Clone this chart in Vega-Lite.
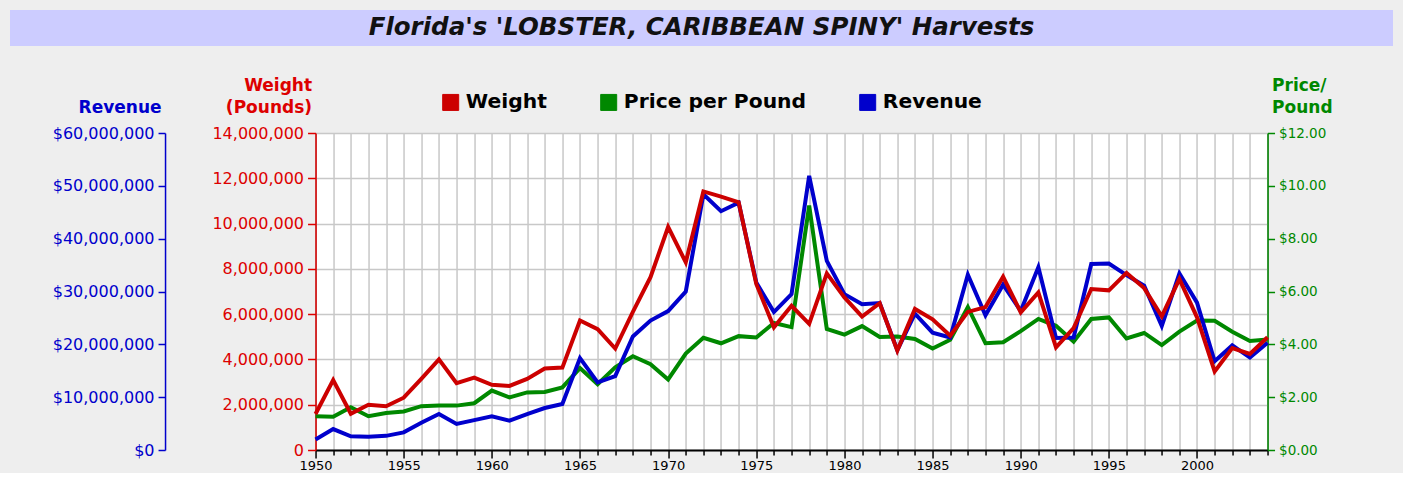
{
  "$schema": "https://vega.github.io/schema/vega-lite/v6.json",
  "background": "#EEEEEE",
  "padding": {"left": 10, "top": 10, "right": 0, "bottom": 0},
  "config": {"font": "DejaVu Sans"},
  "spacing": 29,
  "center": true,
  "resolve": {"scale": {"color": "independent"}, "legend": {"color": "independent"}},
  "vconcat": [
    {
      "width": 1383,
      "height": 36,
      "view": {"fill": "#CCCCFF", "stroke": null},
      "title": {"text": " ", "orient": "right", "angle": 0, "align": "left", "baseline": "middle", "color": "transparent", "fontSize": 10, "offset": 272},
      "data": {"values": [{"title": "Florida's 'LOBSTER, CARIBBEAN SPINY' Harvests"}]},
      "mark": {"type": "text", "font": "DejaVu Sans", "fontSize": 24.5, "fontWeight": "bold", "fontStyle": "italic", "color": "#111111", "baseline": "middle", "align": "center"},
      "encoding": {"text": {"field": "title"}}
    },
    {
      "width": 952,
      "height": 317,
      "view": {"fill": "white", "stroke": "black", "strokeWidth": 1},
      "title": {"text": "M", "orient": "right", "angle": 0, "align": "left", "baseline": "middle", "color": "transparent", "fontSize": 10, "offset": 7},
      "data": {"values": [
        {"year": 1950, "weight": 1590000, "price": 1.28, "revenue": 2000000},
        {"year": 1951, "weight": 3090000, "price": 1.26, "revenue": 3970000},
        {"year": 1952, "weight": 1600000, "price": 1.62, "revenue": 2600000},
        {"year": 1953, "weight": 2000000, "price": 1.28, "revenue": 2520000},
        {"year": 1954, "weight": 1930000, "price": 1.40, "revenue": 2680000},
        {"year": 1955, "weight": 2310000, "price": 1.46, "revenue": 3340000},
        {"year": 1956, "weight": 3140000, "price": 1.66, "revenue": 5150000},
        {"year": 1957, "weight": 4000000, "price": 1.68, "revenue": 6810000},
        {"year": 1958, "weight": 2950000, "price": 1.68, "revenue": 4920000},
        {"year": 1959, "weight": 3200000, "price": 1.77, "revenue": 5650000},
        {"year": 1960, "weight": 2880000, "price": 2.25, "revenue": 6400000},
        {"year": 1961, "weight": 2830000, "price": 1.99, "revenue": 5550000},
        {"year": 1962, "weight": 3140000, "price": 2.18, "revenue": 6810000},
        {"year": 1963, "weight": 3600000, "price": 2.20, "revenue": 7950000},
        {"year": 1964, "weight": 3640000, "price": 2.37, "revenue": 8710000},
        {"year": 1965, "weight": 5720000, "price": 3.10, "revenue": 17400000},
        {"year": 1966, "weight": 5340000, "price": 2.49, "revenue": 12800000},
        {"year": 1967, "weight": 4480000, "price": 3.13, "revenue": 14000000},
        {"year": 1968, "weight": 6100000, "price": 3.55, "revenue": 21500000},
        {"year": 1969, "weight": 7630000, "price": 3.25, "revenue": 24500000},
        {"year": 1970, "weight": 9850000, "price": 2.67, "revenue": 26300000},
        {"year": 1971, "weight": 8290000, "price": 3.65, "revenue": 30000000},
        {"year": 1972, "weight": 11420000, "price": 4.25, "revenue": 48400000},
        {"year": 1973, "weight": 11190000, "price": 4.04, "revenue": 45200000},
        {"year": 1974, "weight": 10940000, "price": 4.31, "revenue": 46800000},
        {"year": 1975, "weight": 7330000, "price": 4.26, "revenue": 31700000},
        {"year": 1976, "weight": 5420000, "price": 4.81, "revenue": 26100000},
        {"year": 1977, "weight": 6370000, "price": 4.65, "revenue": 29500000},
        {"year": 1978, "weight": 5570000, "price": 9.25, "revenue": 51900000},
        {"year": 1979, "weight": 7800000, "price": 4.58, "revenue": 35800000},
        {"year": 1980, "weight": 6740000, "price": 4.37, "revenue": 29500000},
        {"year": 1981, "weight": 5890000, "price": 4.69, "revenue": 27600000},
        {"year": 1982, "weight": 6480000, "price": 4.28, "revenue": 27800000},
        {"year": 1983, "weight": 4390000, "price": 4.30, "revenue": 18900000},
        {"year": 1984, "weight": 6230000, "price": 4.20, "revenue": 25800000},
        {"year": 1985, "weight": 5770000, "price": 3.84, "revenue": 22200000},
        {"year": 1986, "weight": 5050000, "price": 4.17, "revenue": 21300000},
        {"year": 1987, "weight": 6100000, "price": 5.41, "revenue": 33200000},
        {"year": 1988, "weight": 6310000, "price": 4.04, "revenue": 25500000},
        {"year": 1989, "weight": 7650000, "price": 4.08, "revenue": 31300000},
        {"year": 1990, "weight": 6080000, "price": 4.50, "revenue": 26300000},
        {"year": 1991, "weight": 6960000, "price": 4.96, "revenue": 34600000},
        {"year": 1992, "weight": 4530000, "price": 4.70, "revenue": 21200000},
        {"year": 1993, "weight": 5380000, "price": 4.10, "revenue": 21300000},
        {"year": 1994, "weight": 7110000, "price": 4.96, "revenue": 35200000},
        {"year": 1995, "weight": 7050000, "price": 5.02, "revenue": 35300000},
        {"year": 1996, "weight": 7820000, "price": 4.22, "revenue": 33100000},
        {"year": 1997, "weight": 7150000, "price": 4.43, "revenue": 31100000},
        {"year": 1998, "weight": 5900000, "price": 3.97, "revenue": 23500000},
        {"year": 1999, "weight": 7550000, "price": 4.48, "revenue": 33400000},
        {"year": 2000, "weight": 5860000, "price": 4.90, "revenue": 27900000},
        {"year": 2001, "weight": 3470000, "price": 4.89, "revenue": 16800000},
        {"year": 2002, "weight": 4500000, "price": 4.48, "revenue": 19800000},
        {"year": 2003, "weight": 4240000, "price": 4.13, "revenue": 17500000},
        {"year": 2004, "weight": 4980000, "price": 4.18, "revenue": 20300000}
      ]},
      "encoding": {
        "x": {
          "field": "year", "type": "quantitative",
          "scale": {"domain": [1950, 2004], "nice": false, "zero": false},
          "axis": {
            "title": null,
            "values": [1950,1951,1952,1953,1954,1955,1956,1957,1958,1959,1960,1961,1962,1963,1964,1965,1966,1967,1968,1969,1970,1971,1972,1973,1974,1975,1976,1977,1978,1979,1980,1981,1982,1983,1984,1985,1986,1987,1988,1989,1990,1991,1992,1993,1994,1995,1996,1997,1998,1999,2000,2001,2002,2003,2004],
            "labelExpr": "datum.value % 5 === 0 ? '' + datum.value : ''",
            "labelOverlap": false,
            "labelFlush": false,
            "grid": true, "gridColor": "#C8C8C8", "gridWidth": 1.5,
            "domainColor": "#000000", "domainWidth": 2,
            "tickColor": "#000000", "tickWidth": 1.5,
            "tickSize": {"condition": {"test": "datum.value % 5 === 0", "value": 8}, "value": 5},
            "labelColor": "#000000", "labelFontSize": 13, "labelPadding": 1, "labelFont": "DejaVu Sans"
          }
        }
      },
      "layer": [
        {
          "mark": {"type": "line", "strokeWidth": 4},
          "encoding": {
            "y": {
              "field": "price", "type": "quantitative",
              "scale": {"domain": [0, 12], "nice": false, "zero": true},
              "axis": {
                "orient": "right",
                "values": [0, 2, 4, 6, 8, 10, 12],
                "format": "$.2f",
                "grid": false,
                "domainColor": "#008800", "domainWidth": 1.5,
                "tickColor": "#008800", "tickSize": 7, "tickWidth": 1.5,
                "labelColor": "#008800", "labelFontSize": 13.5, "labelPadding": 4,
                "title": ["Price/", "Pound"],
                "titleColor": "#008800", "titleFontSize": 17, "titleFontWeight": "bold",
                "titleAngle": 0, "titleAlign": "left", "titleBaseline": "alphabetic",
                "titleX": 4, "titleY": -43, "titleLineHeight": 22
              }
            },
            "color": {
              "datum": "Price per Pound", "type": "nominal",
              "scale": {"domain": ["Weight", "Price per Pound", "Revenue"], "range": ["#CC0000", "#008800", "#0000CC"]},
              "legend": {
                "title": null, "orient": "none", "legendX": 125, "legendY": -41,
                "direction": "horizontal", "columns": 3,
                "symbolType": "square", "symbolSize": 256, "symbolStrokeWidth": 1,
                "labelFontSize": 20.3, "labelFontWeight": "bold", "labelFont": "DejaVu Sans", "labelColor": "#000000",
                "labelOffset": 5, "labelLimit": 1000, "columnPadding": 51, "padding": 0,
                "encode": {"symbols": {"update": {
                  "fill": {"signal": "datum.value === 'Weight' ? '#CC0000' : datum.value === 'Revenue' ? '#0000CC' : '#008800'"},
                  "stroke": {"value": "#000000"},
                  "strokeWidth": {"value": 1},
                  "opacity": {"value": 1}
                }}}
              }
            }
          }
        },
        {
          "mark": {"type": "line", "strokeWidth": 4},
          "encoding": {
            "y": {
              "field": "revenue", "type": "quantitative",
              "scale": {"domain": [0, 60000000], "nice": false, "zero": true},
              "axis": {
                "orient": "left", "offset": 150.5,
                "values": [0, 10000000, 20000000, 30000000, 40000000, 50000000, 60000000],
                "format": "$,.0f",
                "grid": false,
                "domainColor": "#0000CC", "domainWidth": 1.5,
                "tickColor": "#0000CC", "tickSize": 7, "tickWidth": 1.5,
                "labelColor": "#0000CC", "labelFontSize": 16, "labelPadding": 4,
                "title": "Revenue",
                "titleColor": "#0000CC", "titleFontSize": 17, "titleFontWeight": "bold",
                "titleAngle": 0, "titleAlign": "right", "titleBaseline": "alphabetic",
                "titleX": -4, "titleY": -21
              }
            },
            "color": {"datum": "Revenue", "type": "nominal"}
          }
        },
        {
          "mark": {"type": "line", "strokeWidth": 4},
          "encoding": {
            "y": {
              "field": "weight", "type": "quantitative",
              "scale": {"domain": [0, 14000000], "nice": false, "zero": true},
              "axis": {
                "orient": "left",
                "values": [0, 2000000, 4000000, 6000000, 8000000, 10000000, 12000000, 14000000],
                "format": ",.0f",
                "grid": true, "gridColor": "#C8C8C8", "gridWidth": 1.5,
                "domainColor": "#DD0000", "domainWidth": 1.5,
                "tickColor": "#DD0000", "tickSize": 8, "tickWidth": 1.5,
                "labelColor": "#DD0000", "labelFontSize": 16, "labelPadding": 4,
                "title": ["Weight", "(Pounds)"],
                "titleColor": "#DD0000", "titleFontSize": 17, "titleFontWeight": "bold",
                "titleAngle": 0, "titleAlign": "right", "titleBaseline": "alphabetic",
                "titleX": -4, "titleY": -43, "titleLineHeight": 22
              }
            },
            "color": {"datum": "Weight", "type": "nominal"}
          }
        }
      ],
      "resolve": {"scale": {"y": "independent"}}
    }
  ]
}
